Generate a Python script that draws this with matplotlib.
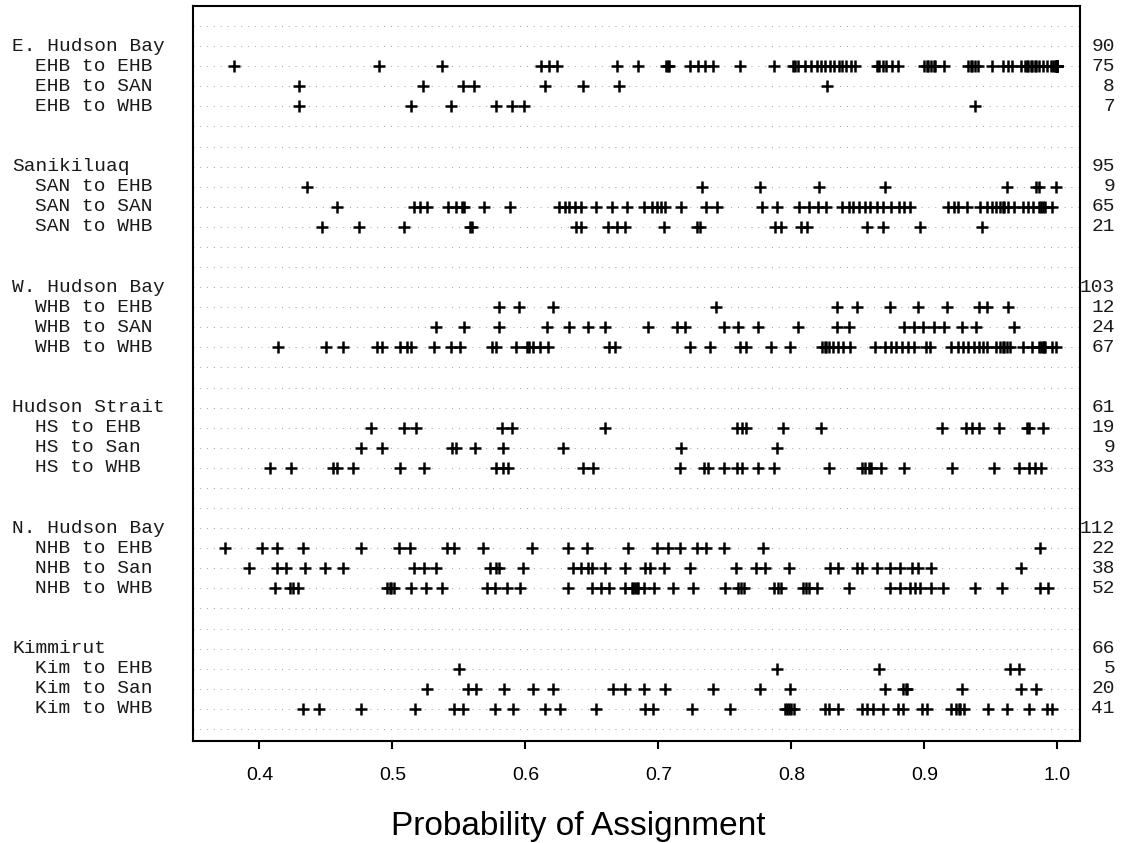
import matplotlib
matplotlib.use("Agg")
import matplotlib.pyplot as plt
import matplotlib.transforms as mtransforms

groups = ["E. Hudson Bay", "Sanikiluaq", "W. Hudson Bay",
          "Hudson Strait", "N. Hudson Bay", "Kimmirut"]
group_counts = [90, 95, 103, 61, 112, 66]

sub_labels = [
    ["EHB to EHB", "EHB to SAN", "EHB to WHB"],
    ["SAN to EHB", "SAN to SAN", "SAN to WHB"],
    ["WHB to EHB", "WHB to SAN", "WHB to WHB"],
    ["HS to EHB", "HS to San", "HS to WHB"],
    ["NHB to EHB", "NHB to San", "NHB to WHB"],
    ["Kim to EHB", "Kim to San", "Kim to WHB"],
]
sub_counts = [[75, 8, 7], [9, 65, 21], [12, 24, 67],
              [19, 9, 33], [22, 38, 52], [5, 20, 41]]

ehb_ehb = [0.381, 0.490, 0.537, 0.612, 0.618, 0.624, 0.669, 0.685, 0.706, 0.707,
           0.708, 0.724, 0.730, 0.735, 0.741, 0.761, 0.787, 0.801, 0.803, 0.805,
           0.810, 0.815, 0.819, 0.822, 0.825, 0.829, 0.832, 0.836, 0.838, 0.841,
           0.845, 0.848, 0.864, 0.866, 0.869, 0.871, 0.876, 0.880, 0.900, 0.902,
           0.903, 0.905, 0.907, 0.908, 0.915, 0.933, 0.935, 0.936, 0.938, 0.940,
           0.951, 0.959, 0.963, 0.966, 0.973, 0.976, 0.977, 0.978, 0.980, 0.981,
           0.983, 0.984, 0.986, 0.989, 0.992, 0.995, 0.997, 0.998, 0.999, 0.999,
           1.0, 1.0, 1.0, 1.0, 1.0]
ehb_san = [0.430, 0.523, 0.553, 0.561, 0.615, 0.643, 0.670, 0.827]
ehb_whb = [0.430, 0.514, 0.544, 0.578, 0.590, 0.599, 0.938]

san_ehb = [0.436, 0.733, 0.776, 0.821, 0.870, 0.962, 0.984, 0.986, 0.999]
san_san = [0.458, 0.516, 0.521, 0.526, 0.542, 0.548, 0.552, 0.554, 0.569, 0.588,
           0.625, 0.630, 0.633, 0.637, 0.642, 0.653, 0.665, 0.676, 0.689, 0.695,
           0.699, 0.702, 0.705, 0.717, 0.736, 0.744, 0.778, 0.789, 0.806, 0.813,
           0.820, 0.826, 0.838, 0.843, 0.846, 0.851, 0.855, 0.859, 0.864, 0.869,
           0.875, 0.881, 0.885, 0.889, 0.918, 0.922, 0.925, 0.932, 0.942, 0.947,
           0.951, 0.954, 0.957, 0.959, 0.960, 0.963, 0.967, 0.974, 0.978, 0.982,
           0.986, 0.988, 0.989, 0.991, 0.996]
san_whb = [0.447, 0.475, 0.509, 0.558, 0.560, 0.638, 0.642, 0.662, 0.669, 0.675,
           0.704, 0.729, 0.731, 0.788, 0.792, 0.807, 0.812, 0.857, 0.869, 0.897,
           0.943]

whb_ehb = [0.580, 0.595, 0.621, 0.743, 0.834, 0.849, 0.874, 0.895, 0.917, 0.941,
           0.947, 0.963]
whb_san = [0.533, 0.554, 0.580, 0.616, 0.633, 0.647, 0.660, 0.692, 0.714, 0.720,
           0.749, 0.760, 0.775, 0.805, 0.834, 0.843, 0.885, 0.892, 0.899, 0.907,
           0.915, 0.928, 0.939, 0.967]
whb_whb = [0.414, 0.450, 0.463, 0.488, 0.492, 0.506, 0.511, 0.514, 0.531, 0.544,
           0.551, 0.575, 0.578, 0.593, 0.601, 0.603, 0.606, 0.611, 0.617, 0.663,
           0.667, 0.724, 0.739, 0.761, 0.766, 0.785, 0.799, 0.823, 0.825, 0.826,
           0.828, 0.831, 0.835, 0.839, 0.844, 0.863, 0.870, 0.875, 0.879, 0.883,
           0.888, 0.892, 0.901, 0.904, 0.920, 0.925, 0.929, 0.933, 0.937, 0.941,
           0.944, 0.947, 0.954, 0.957, 0.959, 0.960, 0.962, 0.964, 0.974, 0.981,
           0.986, 0.988, 0.989, 0.990, 0.991, 0.996, 0.999]

hs_ehb = [0.484, 0.509, 0.518, 0.582, 0.590, 0.660, 0.759, 0.763, 0.766, 0.794,
          0.822, 0.913, 0.931, 0.936, 0.941, 0.956, 0.977, 0.979, 0.989]
hs_san = [0.476, 0.492, 0.545, 0.548, 0.562, 0.583, 0.628, 0.717, 0.789]
hs_whb = [0.408, 0.424, 0.455, 0.458, 0.470, 0.506, 0.524, 0.578, 0.583, 0.587,
          0.643, 0.651, 0.716, 0.734, 0.737, 0.749, 0.759, 0.763, 0.775, 0.787,
          0.828, 0.853, 0.855, 0.858, 0.860, 0.867, 0.885, 0.921, 0.952, 0.971,
          0.979, 0.983, 0.988]

nhb_ehb = [0.374, 0.402, 0.413, 0.433, 0.476, 0.505, 0.513, 0.541, 0.546, 0.568,
           0.605, 0.632, 0.646, 0.677, 0.699, 0.707, 0.716, 0.729, 0.736, 0.749,
           0.779, 0.987]
nhb_san = [0.392, 0.413, 0.420, 0.434, 0.449, 0.463, 0.516, 0.524, 0.533, 0.573,
           0.578, 0.580, 0.598, 0.636, 0.642, 0.647, 0.650, 0.660, 0.675, 0.690,
           0.694, 0.704, 0.724, 0.758, 0.773, 0.780, 0.798, 0.829, 0.835, 0.849,
           0.853, 0.864, 0.874, 0.882, 0.891, 0.895, 0.905, 0.973]
nhb_whb = [0.412, 0.423, 0.425, 0.429, 0.496, 0.498, 0.499, 0.501, 0.514, 0.525,
           0.537, 0.571, 0.577, 0.586, 0.596, 0.632, 0.650, 0.657, 0.663, 0.675,
           0.680, 0.681, 0.682, 0.684, 0.685, 0.689, 0.697, 0.711, 0.726, 0.750,
           0.760, 0.762, 0.764, 0.787, 0.790, 0.792, 0.809, 0.811, 0.813, 0.819,
           0.843, 0.874, 0.882, 0.889, 0.893, 0.897, 0.905, 0.914, 0.938, 0.958,
           0.987, 0.993]

kim_ehb = [0.550, 0.789, 0.866, 0.964, 0.971]
kim_san = [0.526, 0.557, 0.563, 0.584, 0.606, 0.621, 0.666, 0.675, 0.689, 0.705,
           0.741, 0.776, 0.799, 0.870, 0.884, 0.886, 0.887, 0.928, 0.973, 0.984]
kim_whb = [0.433, 0.445, 0.476, 0.517, 0.546, 0.553, 0.577, 0.591, 0.615, 0.626,
           0.653, 0.690, 0.696, 0.725, 0.754, 0.795, 0.797, 0.798, 0.800, 0.802,
           0.825, 0.828, 0.835, 0.853, 0.857, 0.861, 0.869, 0.880, 0.884, 0.898,
           0.902, 0.920, 0.924, 0.926, 0.927, 0.930, 0.948, 0.962, 0.979, 0.992,
           0.996]

sub_values = [[ehb_ehb, ehb_san, ehb_whb],
              [san_ehb, san_san, san_whb],
              [whb_ehb, whb_san, whb_whb],
              [hs_ehb, hs_san, hs_whb],
              [nhb_ehb, nhb_san, nhb_whb],
              [kim_ehb, kim_san, kim_whb]]

xticks = [0.4, 0.5, 0.6, 0.7, 0.8, 0.9, 1.0]

W, H = 1122, 843
fig = plt.figure(figsize=(W / 100, H / 100), dpi=100)
ax = fig.add_axes([193 / W, 1 - 741 / H, (1080 - 193) / W, (741 - 6) / H])

mono = "Liberation Mono"
sans = "Liberation Sans"
txt_col = "#1a1a1a"
fs = 14
n_rows = 6 * len(groups)
ax.set_ylim(n_rows - 1 + 0.6, -1)
ax.set_xlim(0.35, 1.017)

# dotted guide line for every row, blank ones included
for r in range(n_rows):
    ax.axhline(r, color="#a0a0a0", lw=0.7, ls=(0, (1, 6)), zorder=1)

lab = mtransforms.blended_transform_factory(fig.transFigure, ax.transData)
for g, name in enumerate(groups):
    top = 1 + 6 * g
    ax.text(12 / W, top, name, transform=lab, family=mono, fontsize=fs,
            va="center", ha="left", color=txt_col)
    ax.text(1115 / W, top, str(group_counts[g]), transform=lab, family=mono,
            fontsize=fs, va="center", ha="right", color=txt_col)
    for k in range(3):
        r = top + 1 + k
        vals = sub_values[g][k]
        ax.plot(vals, [r] * len(vals), ls="none", marker="+", ms=9, mew=1.8,
                color="black", zorder=3)
        ax.text(35 / W, r, sub_labels[g][k], transform=lab, family=mono,
                fontsize=fs, va="center", ha="left", color=txt_col)
        ax.text(1115 / W, r, str(sub_counts[g][k]), transform=lab, family=mono,
                fontsize=fs, va="center", ha="right", color=txt_col)

ax.set_yticks([])
ax.set_xticks(xticks)
ax.set_xticklabels([f"{t:.1f}" for t in xticks], family=sans, fontsize=14)
ax.tick_params(axis="x", length=6, width=1.5, pad=13)
for s in ax.spines.values():
    s.set_linewidth(1.5)

fig.text(578 / W, 1 - 826 / H, "Probability of Assignment", family=sans,
         fontsize=24, ha="center", va="center")

fig.savefig("out.png", dpi=100)
